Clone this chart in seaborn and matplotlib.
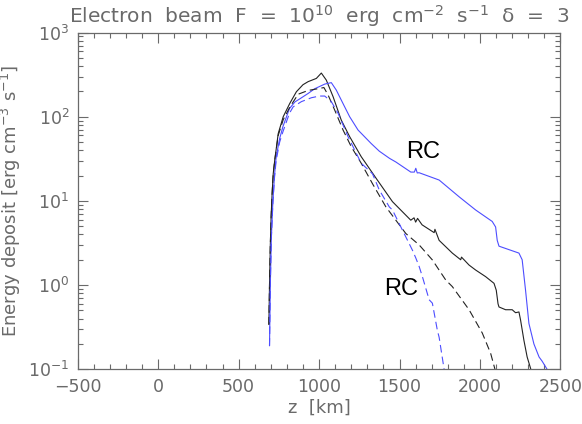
import matplotlib
matplotlib.use("Agg")
import matplotlib.pyplot as plt
import matplotlib.ticker as mticker
import seaborn as sns

sns.set_theme(style="ticks")
plt.rcParams['font.family'] = ['DejaVu Sans']
plt.rcParams['lines.scale_dashes'] = False

GREY = '#6a6a6a'
BLUE = '#4d4dff'

# black solid
k_z = [688, 692, 697, 702, 708, 715, 725, 746, 777, 818, 859, 900, 932, 983, 1014,
       1045, 1087, 1138, 1190, 1262, 1355, 1456, 1570, 1590, 1600, 1612, 1640, 1715, 1720,
       1746, 1828, 1880, 1885, 1932, 1973, 2035, 2087, 2101, 2112, 2118, 2159, 2200, 2221,
       2242, 2252, 2273, 2293, 2316]
k_E = [0.34, 1.0, 3.0, 6.5, 12, 21, 31, 63, 100, 144, 198, 240, 261, 285, 330,
       272, 173, 91, 58, 33.5, 18.5, 9.8, 5.9, 6.3, 5.6, 6.2, 5.2, 4.2, 4.6,
       3.4, 2.4, 2.0, 2.15, 1.73, 1.51, 1.26, 1.05, 0.87, 0.6, 0.55, 0.51, 0.51, 0.47,
       0.48, 0.385, 0.22, 0.14, 0.1]

# blue solid
b_z = [692, 697, 703, 713, 723, 733, 755, 775, 816, 850, 878, 932, 973, 1035, 1076,
       1107, 1159, 1190, 1242, 1324, 1374, 1438, 1477, 1570, 1592, 1601, 1610, 1622, 1746,
       1870, 1973, 2076, 2097, 2107, 2118, 2242, 2262, 2283, 2304, 2335, 2367, 2386, 2417]
b_E = [0.19, 1.0, 3.5, 10, 20, 33, 55, 76, 125, 150, 162, 189, 215, 244, 254,
       207, 131, 100, 69.5, 48, 39, 32, 29, 22, 22, 24.4, 21.5, 21.6, 17.7,
       11.2, 7.8, 5.7, 4.9, 3.4, 2.9, 2.4, 2.0, 0.87, 0.35, 0.2, 0.14, 0.125, 0.1]

# black dashed
kd_z = [688, 692, 697, 702, 708, 715, 725, 746, 777, 818, 870, 932, 1004, 1030, 1056,
        1097, 1149, 1200, 1262, 1332, 1415, 1539, 1622, 1704, 1787, 1828, 1932, 2014,
        2066, 2093]
kd_E = [0.34, 1.0, 3.0, 6.5, 12, 21, 31, 60, 92, 130, 185, 205, 217, 222, 181,
        120, 69.5, 44, 28, 16, 8.5, 4.1, 3.0, 1.99, 1.15, 0.96, 0.51, 0.27,
        0.155, 0.1]

# blue dashed
bd_z = [692, 697, 703, 713, 723, 733, 755, 775, 816, 839, 890, 952, 1002, 1035, 1076,
        1118, 1180, 1262, 1332, 1374, 1436, 1456, 1518, 1580, 1601, 1622, 1642, 1684,
        1704, 1735, 1746, 1777]
bd_E = [0.19, 1.0, 3.5, 9.5, 19, 30, 50, 66, 110, 131, 151, 168, 176, 176, 151,
        110, 58, 28, 21, 13.5, 8.5, 7.8, 4.5, 2.6, 2.1, 1.66, 1.26, 0.67,
        0.61, 0.29, 0.24, 0.1]

rc_labels = [(1647, 38, 'RC'), (1511, 0.89, 'RC')]

fig = plt.figure(figsize=(5.82, 4.24), dpi=100)
ax = fig.add_axes([0.1335, 0.129, 0.8295, 0.7943])
ax.set_facecolor('white')

sns.lineplot(x=k_z, y=k_E, ax=ax, color='#222222', lw=0.8, sort=False, estimator=None)
sns.lineplot(x=b_z, y=b_E, ax=ax, color=BLUE, lw=0.8, sort=False, estimator=None)
sns.lineplot(x=kd_z, y=kd_E, ax=ax, color='#222222', lw=0.8, sort=False, estimator=None,
             linestyle=(0, (5.5, 3)))
sns.lineplot(x=bd_z, y=bd_E, ax=ax, color=BLUE, lw=0.8, sort=False, estimator=None,
             linestyle=(0, (5.5, 3)))

for z, e, s in rc_labels:
    ax.text(z, e, s, fontsize=17, color='black', ha='center', va='center',
            family=['Liberation Sans', 'DejaVu Sans'])

ax.set_yscale('log')
ax.set_xlim(-500, 2500)
ax.set_ylim(0.1, 1000)
ax.xaxis.set_major_locator(mticker.MultipleLocator(500))
ax.xaxis.set_minor_locator(mticker.MultipleLocator(100))
ax.yaxis.set_major_locator(mticker.LogLocator(base=10, numticks=10))
ax.yaxis.set_minor_locator(mticker.LogLocator(base=10, subs=range(2, 10), numticks=20))
ax.yaxis.set_minor_formatter(mticker.NullFormatter())

for sp in ax.spines.values():
    sp.set_color(GREY)
    sp.set_linewidth(0.9)
ax.tick_params(which='both', direction='in', top=True, right=True, color=GREY,
               labelcolor=GREY, labelsize=12.5, width=0.8)
ax.tick_params(which='major', length=7, pad=6)
ax.tick_params(which='minor', length=3.5)

ax.set_xlabel('z  [km]', color=GREY, fontsize=13, labelpad=2)
ax.set_ylabel('Energy deposit [erg cm$^{-3}$ s$^{-1}$]', color=GREY, fontsize=13, labelpad=4)
ax.set_title('Electron  beam  F  =  10$^{10}$  erg  cm$^{-2}$  s$^{-1}$  δ  =  3', color=GREY,
             fontsize=14.5, pad=7)

fig.savefig('out.png', dpi=100)
